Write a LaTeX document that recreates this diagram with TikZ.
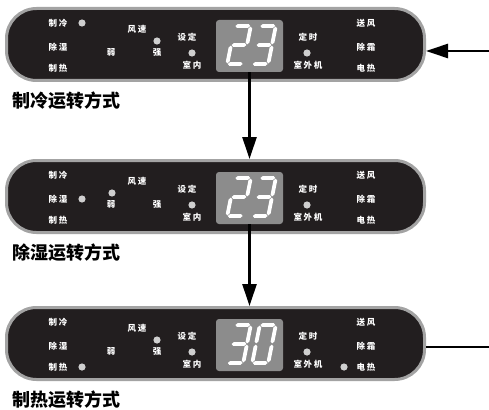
\documentclass[tikz,border=0pt]{standalone}
\usepackage{fontspec}
\newfontfamily\cjk{Noto Sans CJK SC}
\newfontfamily\cjksp{Noto Sans CJK SC}[LetterSpace=18]
\usetikzlibrary{positioning,arrows.meta}

\definecolor{panelblack}{HTML}{221E1F}
\definecolor{panelgray}{HTML}{A3A3A3}
\definecolor{screengray}{HTML}{8C8C8C}
\definecolor{ledgray}{HTML}{CFCFCF}

% seven segment pieces, local y points down
\newcommand\hseg[3]{\fill[seg] (#1+0.6,#3) -- (#1+2.5,#3-1.9) -- (#2-2.5,#3-1.9) -- (#2-0.6,#3) -- (#2-2.5,#3+1.9) -- (#1+2.5,#3+1.9) -- cycle;}
\newcommand\vseg[3]{\fill[seg] (#1,#2+0.6) -- (#1+1.9,#2+2.5) -- (#1+1.9,#3-2.5) -- (#1,#3-0.6) -- (#1-1.9,#3-2.5) -- (#1-1.9,#2+2.5) -- cycle;}
\newcommand\sevA{\hseg{-8}{8}{-19}}
\newcommand\sevB{\vseg{8}{-19}{0}}
\newcommand\sevC{\vseg{8}{0}{19}}
\newcommand\sevD{\hseg{-8}{8}{19}}
\newcommand\sevE{\vseg{-8}{0}{19}}
\newcommand\sevF{\vseg{-8}{-19}{0}}
\newcommand\sevG{\hseg{-8}{8}{0}}
\newcommand\sevdigit[3]{%
  \begin{scope}[shift={(#1,#2)},xslant=0.2]
    \foreach \s in {#3} {\csname sev\s\endcsname}
  \end{scope}}

% labels common to every panel
\newcommand\panellabels{%
  \node[lbl] (cool) at (58,23) {制冷};
  \node[lbl] (dry) at (58,47) {除湿};
  \node[lbl] (heat) at (58,68) {制热};
  \node[lbl] (speed) at (137,29) {风速};
  \node[lbl] (low) at (111,52) {弱};
  \node[lbl] (high) at (157,53) {强};
  \node[lbl] (set) at (187,37) {设定};
  \node[lbl] (indoor) at (192,65) {室内};
  \node[lbl] (timer) at (308,37) {定时};
  \node[lbl] (outdoor) at (308,65) {室外机};
  \node[lbl] (fan) at (366,23) {送风};
  \node[lbl] (defrost) at (366,47) {除霜};
  \node[lbl] (elec) at (366,68) {电热};
  \fill[led] (192,53) circle (3.6) (307,53) circle (3.6);}

\begin{document}
\begin{tikzpicture}[x=1pt,y=-1pt,
    panel/.style={draw=panelgray,line width=3pt,fill=panelblack,rounded corners=30pt,minimum width=418pt,minimum height=72pt,inner sep=0pt},
    screen/.style={fill=screengray,rounded corners=3pt,minimum width=67pt,minimum height=52pt,inner sep=0pt},
    lbl/.style={text=white,font=\cjksp\bfseries\fontsize{8.5}{9}\selectfont,inner sep=0pt},
    modetitle/.style={font=\cjk\bfseries\fontsize{18}{20}\selectfont,anchor=west,inner sep=0pt},
    arr/.style={line width=2.6pt,-{Triangle[length=22pt,width=14pt]}},
    seg/.style={fill=white},
    led/.style={fill=ledgray}]
  \useasboundingbox (0,0) rectangle (489,409);

  % cooling
  \begin{scope}[name prefix=m1-]
    \node[panel] (panel) at (215.5,44.5) {};
    \node[screen] (screen) at (249.5,46) {};
    \sevdigit{239}{45}{A,B,G,E,D}
    \sevdigit{264}{45}{A,B,G,C,D}
    \panellabels
    \fill[led] (82,23) circle (3.6) (157,41) circle (3.6);
  \end{scope}
  \node[modetitle] (title1) at (12,101) {制冷运转方式};

  % dehumidifying
  \begin{scope}[shift={(0,152)},name prefix=m2-]
    \node[panel] (panel) at (215.5,44.5) {};
    \node[screen] (screen) at (249.5,46) {};
    \sevdigit{239}{45}{A,B,G,E,D}
    \sevdigit{264}{45}{A,B,G,C,D}
    \panellabels
    \fill[led] (82,47) circle (3.6) (112,41) circle (3.6);
  \end{scope}
  \node[modetitle] (title2) at (12,253) {除湿运转方式};

  % heating
  \begin{scope}[shift={(0,299)},name prefix=m3-]
    \node[panel] (panel) at (215.5,44.5) {};
    \node[screen] (screen) at (249.5,46) {};
    \sevdigit{239}{45}{A,B,G,C,D}
    \sevdigit{264}{45}{A,B,C,D,E,F}
    \panellabels
    \fill[led] (82,68) circle (3.6) (157,41) circle (3.6) (344,68) circle (3.6);
  \end{scope}
  \node[modetitle] (title3) at (12,400) {制热运转方式};

  \coordinate (in) at (489,51);
  \coordinate (out) at (489,347);
  \draw[arr] (in) -- (in -| m1-panel.east);
  \draw[arr] (m1-screen.south) -- (m1-screen.south |- m2-panel.north);
  \draw[arr] (m2-screen.south) -- (m2-screen.south |- m3-panel.north);
  \draw[line width=2.6pt] (m3-panel.east |- out) -- (out);
\end{tikzpicture}
\end{document}
